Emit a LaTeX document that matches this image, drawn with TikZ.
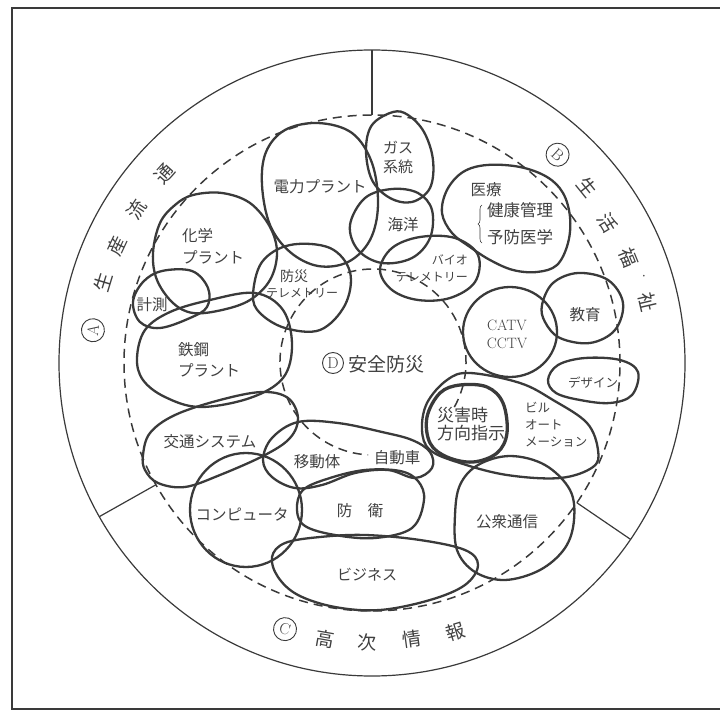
\documentclass[tikz,border=0pt]{standalone}
\usepackage{fontspec}
\newfontfamily\jp{Noto Sans CJK JP}
\usetikzlibrary{calc,decorations.pathreplacing}
\definecolor{ink}{HTML}{3A3A3A}
\definecolor{txt}{HTML}{404040}
\begin{document}
\begin{tikzpicture}[x=1pt,y=-1pt,
  blob/.style={draw=ink,line width=2.3pt,line join=round},
  thickblob/.style={draw=ink,line width=3.3pt,line join=round},
  thinline/.style={draw=ink,line width=1.2pt},
  dashline/.style={draw=ink,line width=1.5pt,dash pattern=on 9pt off 6pt},
  lab/.style={text=txt,inner sep=0pt,font=\jp\fontsize{15.5}{20}\selectfont},
  smalllab/.style={text=txt,inner sep=0pt,font=\jp\fontsize{12}{17}\selectfont},
  ringlab/.style={text=txt,inner sep=0pt,font=\jp\fontsize{19}{19}\selectfont},
  circ/.style={circle,draw=ink,line width=0.9pt,inner sep=0pt,minimum size=23pt,text=txt,font=\fontsize{16}{16}\selectfont}
]
\useasboundingbox (0,0) rectangle (720,711);
% frame
\draw[ink,line width=1.3pt] (720,8) -- (12,8) -- (12,709) -- (720,709);
% rings
\coordinate (O) at (372,363);
\draw[thinline] (O) circle[radius=313pt];
\draw[dashline] (O) circle[radius=248pt];
\draw[thinline] ($(O)+(90:248pt)$) -- ($(O)+(90:313pt)$);
\draw[thinline] ($(O)+(209.4:248pt)$) -- ($(O)+(209.4:313pt)$);
\draw[thinline] ($(O)+(-34.3:248pt)$) -- ($(O)+(-34.3:313pt)$);
% inner dashed arc
\coordinate (I) at (373,362);
\draw[dashline] ($(I)+(-29:93pt)$) arc[start angle=-29,end angle=267,radius=93pt];

% ring labels A
\node[circ,rotate=83] (ra) at ($(O)+(173.3:281pt)$) {A};
\node[ringlab,rotate=73] (ra1) at ($(O)+(163.3:281pt)$) {生};
\node[ringlab,rotate=65] (ra2) at ($(O)+(155.3:281pt)$) {産};
\node[ringlab,rotate=57] (ra3) at ($(O)+(146.8:281pt)$) {流};
\node[ringlab,rotate=48] (ra4) at ($(O)+(137.6:281pt)$) {通};
% ring labels B
\node[circ,rotate=-42] (rb) at ($(O)+(48.3:279pt)$) {B};
\node[ringlab,rotate=-51] (rb1) at ($(O)+(39.2:278pt)$) {生};
\node[ringlab,rotate=-59] (rb2) at ($(O)+(30.7:274pt)$) {活};
\node[ringlab,rotate=-68] (rb3) at ($(O)+(22.3:277pt)$) {福};
\node[text=txt,inner sep=0pt,font=\jp\fontsize{12}{12}\selectfont] (rb4) at ($(O)+(17.3:285pt)$) {·};
\node[ringlab,rotate=-77] (rb5) at ($(O)+(12.5:282pt)$) {祉};
% ring labels C
\node[circ,rotate=-18] (rc) at ($(O)+(251.9:280pt)$) {C};
\node[ringlab,rotate=-10] (rc1) at ($(O)+(260.3:280pt)$) {高};
\node[ringlab,rotate=-1] (rc2) at ($(O)+(269:280pt)$) {次};
\node[ringlab,rotate=8] (rc3) at ($(O)+(278.2:279pt)$) {情};
\node[ringlab,rotate=17] (rc4) at ($(O)+(287.2:281pt)$) {報};

% blobs
\draw[blob] plot[smooth cycle,tension=0.6] coordinates {(262,185) (270,225) (290,252) (318,266) (348,262) (370,240) (378,205) (372,163) (352,133) (318,123) (285,130) (266,152)}; % 電力
\draw[blob] plot[smooth cycle,tension=0.6] coordinates {(393,112) (372,125) (366,150) (372,180) (390,198) (412,202) (430,188) (433,160) (424,132) (408,115)}; % ガス
\draw[blob] plot[smooth cycle,tension=0.6] coordinates {(392,189) (365,198) (350,225) (358,250) (382,263) (412,258) (430,238) (432,210) (418,193)}; % 海洋
\draw[blob] plot[smooth cycle,tension=0.6] coordinates {(380,270) (392,248) (420,237) (455,238) (478,255) (475,282) (450,298) (418,300) (392,290)}; % バイオ
\draw[blob] plot[smooth cycle,tension=0.6] coordinates {(442,213) (447,190) (463,172) (487,165) (520,167) (547,177) (563,193) (570,217) (568,243) (557,265) (537,272) (513,270) (490,260) (470,247) (452,233)}; % 医療
\draw[blob] plot[smooth cycle,tension=0.6] coordinates {(542,305) (553,283) (578,273) (608,280) (623,303) (615,330) (590,343) (560,338) (545,322)}; % 教育
\draw[blob] (510,332) ellipse[x radius=47pt,y radius=45pt]; % CATV
\draw[blob] plot[smooth cycle,tension=0.6] coordinates {(548,380) (558,365) (585,358) (620,360) (638,372) (632,395) (610,403) (580,400) (556,393)}; % デザイン
\draw[blob] plot[smooth cycle,tension=0.6] coordinates {(447,380) (470,373) (520,383) (553,400) (587,423) (598,450) (593,467) (560,478) (507,475) (460,463) (430,450) (422,430) (427,403)}; % ビル
\draw[thickblob] plot[smooth cycle,tension=0.6] coordinates {(427,417) (440,393) (460,385) (487,387) (503,403) (507,433) (497,453) (473,462) (447,457) (430,443)}; % 災害時
\draw[blob] plot[smooth cycle,tension=0.6] coordinates {(455,515) (460,485) (478,465) (510,456) (545,465) (570,490) (574,520) (565,548) (540,570) (505,580) (475,572) (457,550)}; % 公衆通信
\draw[blob] plot[smooth cycle,tension=0.6] coordinates {(272,557) (285,543) (320,537) (365,535) (420,540) (465,550) (478,565) (465,585) (430,600) (380,610) (335,607) (298,595) (278,577)}; % ビジネス
\draw[blob] plot[smooth cycle,tension=0.6] coordinates {(297,510) (303,490) (330,478) (365,470) (400,471) (418,481) (424,500) (412,528) (375,538) (335,535) (305,526)}; % 防衛
\draw[blob] plot[smooth cycle,tension=0.6] coordinates {(298,422) (338,423) (382,432) (412,440) (430,452) (432,468) (415,478) (388,470) (355,473) (322,485) (295,488) (272,477) (263,460) (272,438)}; % 移動体
\draw[blob] (246,510) ellipse[x radius=56pt,y radius=57pt]; % コンピュータ
\draw[blob] plot[smooth cycle,tension=0.6] coordinates {(143,455) (150,433) (175,415) (220,400) (262,392) (288,398) (298,418) (290,438) (265,455) (220,475) (185,487) (158,483) (145,470)}; % 交通
\draw[blob] plot[smooth cycle,tension=0.6] coordinates {(137,358) (145,330) (170,312) (210,300) (255,293) (283,310) (292,345) (283,378) (250,398) (200,407) (165,397) (143,380)}; % 鉄鋼
\draw[blob] plot[smooth cycle,tension=0.6] coordinates {(193,195) (222,193) (250,203) (270,227) (277,253) (270,280) (250,300) (222,310) (193,313) (173,303) (157,280) (153,253) (160,223) (175,205)}; % 化学
\draw[blob] plot[smooth cycle,tension=0.6] coordinates {(133,302) (143,282) (162,271) (192,271) (208,288) (207,307) (190,318) (160,328) (140,322)}; % 計測
\draw[blob] plot[smooth cycle,tension=0.6] coordinates {(253,295) (262,262) (290,245) (330,248) (350,272) (345,305) (320,330) (285,328) (260,313)}; % 防災テレメトリー

% labels
\node[lab] (t1) at (320,187) {電力プラント};
\node[lab,align=center,font=\jp\fontsize{15}{19}\selectfont] (t2) at (398,157) {ガス\\系統};
\node[lab] (t3) at (403,225) {海洋};
\node[smalllab,align=right,anchor=east] (t4) at (468,268) {バイオ\\テレメトリー};
\node[lab,font=\jp\fontsize{14}{14}\selectfont] (t5) at (294,276) {防災};
\node[smalllab] (t6) at (302,293) {テレメトリー};
\node[lab,align=left,anchor=west,font=\jp\fontsize{15.5}{22}\selectfont] (t7) at (182,246) {化学\\プラント};
\node[lab] (t8) at (152,305) {計測};
\node[lab,align=left,anchor=west,font=\jp\fontsize{15.5}{21}\selectfont] (t9) at (178,360) {鉄鋼\\プラント};
\node[lab] (t10) at (210,442) {交通システム};
\node[lab] (t11) at (317,462) {移動体};
\node[lab] (t12) at (397,458) {自動車};
\node[lab] (t13) at (360,511) {防　衛};
\node[lab] (t14) at (242,515) {コンピュータ};
\node[lab,font=\jp\fontsize{15}{15}\selectfont] (t15) at (367,575) {ビジネス};
\node[lab] (t16) at (507,522) {公衆通信};
\node[lab,align=left,anchor=west,font=\jp\fontsize{17}{18}\selectfont] (t17) at (437,424) {災害時\\方向指示};
\node[smalllab,align=left,anchor=west,font=\jp\fontsize{12.5}{17}\selectfont] (t18) at (525,425) {ビル\\オート\\メーション};
\node[smalllab,font=\jp\fontsize{12.5}{12.5}\selectfont] (t19) at (593,383) {デザイン};
\node[text=txt,inner sep=0pt,align=center,font=\fontsize{15}{18}\selectfont] (t20) at (507,334) {CATV\\CCTV};
\node[lab] (t21) at (585,315) {教育};
\node[lab] (t22) at (486,190) {医療};
\node[lab,align=left,anchor=west,font=\jp\fontsize{16.5}{27}\selectfont] (t23) at (487,224) {健康管理\\予防医学};
\draw[ink,line width=0.6pt,decoration={brace,amplitude=4pt},decorate] (482,243) -- (482,205);
% center
\node[circ,minimum size=21pt] (dd) at (333,363) {D};
\node[lab,font=\jp\fontsize{19}{19}\selectfont] (dc) at (386,364) {安全防災};
\end{tikzpicture}
\end{document}
